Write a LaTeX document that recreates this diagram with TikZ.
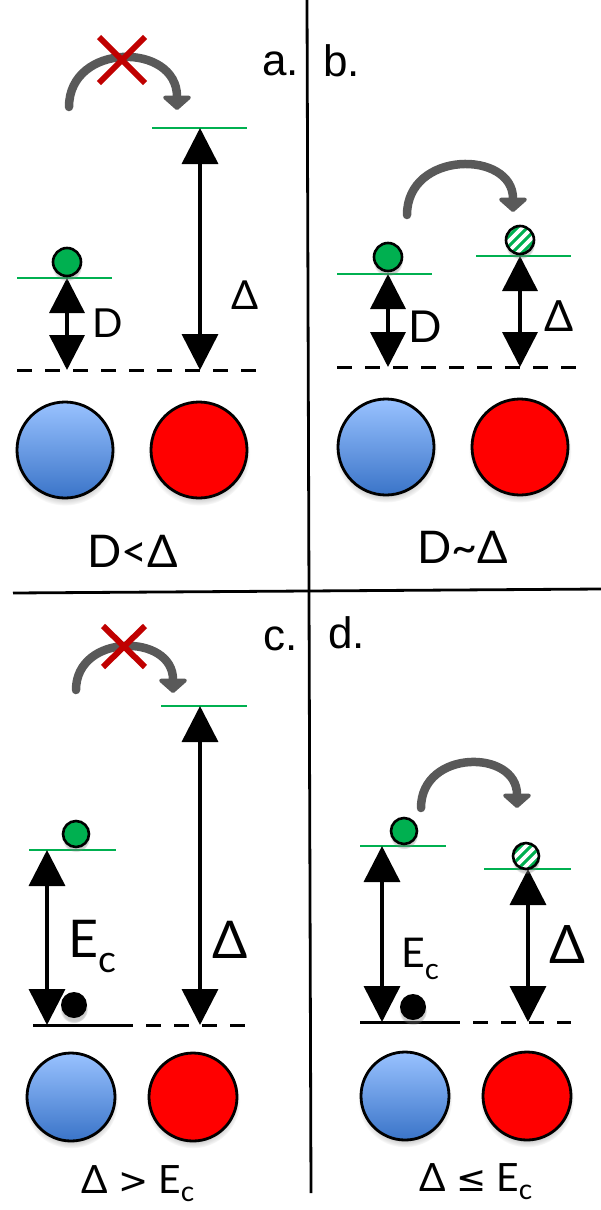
\documentclass[tikz,border=0pt]{standalone}
\usepackage{fontspec}
\setmainfont{Lato}
\newfontfamily\helv{Liberation Sans}
\newfontfamily\dejav{DejaVu Sans}
\usetikzlibrary{arrows.meta,shadows,fadings}
\definecolor{lvlgreen}{RGB}{0,176,80}
\definecolor{hopgray}{RGB}{89,89,89}
\definecolor{xred}{RGB}{192,0,0}
\definecolor{bluetop}{RGB}{153,194,255}
\definecolor{bluebot}{RGB}{58,116,200}
\newcommand\fsz[1]{\fontsize{#1}{#1}\selectfont}
\newcommand\Ecsub{E\raisebox{-0.3em}{\scalebox{0.72}{c}}}
\newcommand\Ecsubc{E\raisebox{-0.22em}{\scalebox{0.72}{c}}}
\begin{document}
\begin{tikzpicture}[x=1pt,y=-1pt,
  lvl/.style={draw=lvlgreen, line width=2.2pt},
  gaparr/.style={line width=3.6pt, {Triangle[width=36pt,length=36pt]}-{Triangle[width=36pt,length=36pt]}},
  gapsm/.style={line width=3.6pt, {Triangle[width=35pt,length=35pt]}-{Triangle[width=35pt,length=35pt]}},
  vacline/.style={draw, line width=3pt, dash pattern=on 15pt off 13pt},
  solidline/.style={draw, line width=3pt},
  hoparr/.style={draw=hopgray, line width=8.5pt, line cap=round, -{Triangle[width=33pt,length=15pt,round]}},
  nohop/.style={draw=xred, line width=6pt},
  shad/.style={circular drop shadow={shadow xshift=0pt, shadow yshift=-4pt, opacity=0.4, shadow scale=1.07}},
  eball/.style={circle, draw=black, line width=2.6pt, inner sep=0pt, minimum size=28pt, fill=lvlgreen, shad},
  hball/.style={eball, path picture={
      \foreach \d in {-30,-20,...,30}{
        \draw[white, line width=3.8pt] ([shift={(\d-20,20)}]path picture bounding box.center) -- ++(40,-40);}}},
  bdot/.style={circle, fill=black, inner sep=0pt, minimum size=26pt, shad},
  bigblue/.style={circle, draw=black, line width=2.8pt, inner sep=0pt, top color=bluetop, bottom color=bluebot, shad},
  bigred/.style={circle, draw=black, line width=2.8pt, inner sep=0pt, fill=red, shad},
  plab/.style={font=\helv\fsz{44}, inner sep=0pt},
  txt/.style={inner sep=0pt}
]
\useasboundingbox (0,0) rectangle (601,1210);
\fill[white] (0,0) rectangle (601,1210);

% dividers
\coordinate (vt) at (307,0); \coordinate (vb) at (311,1193);
\coordinate (hl) at (13,593); \coordinate (hr) at (601,589);
\draw[line width=2.8pt] (vt) -- (vb);
\draw[line width=2.8pt] (hl) -- (hr);

% ================= panel a =================
\node[plab, anchor=base west] (la) at (262,75) {a.};
\draw[vacline] (17,370) -- (260,370);
\draw[lvl] (17,278) -- (112,278);
\draw[lvl] (152,128) -- (247,128);
\coordinate (aD1) at (67,278); \coordinate (aD2) at (67,370);
\coordinate (aG1) at (200,128); \coordinate (aG2) at (200,370);
\draw[gapsm] (aD1) -- (aD2);
\draw[gaparr] (aG1) -- (aG2);
\node[eball] (aE) at (67,262) {};
\coordinate (aH1) at (69,107); \coordinate (aH2) at (177,110);
\draw[hoparr] (aH1) .. controls (69,42) and (177,42) .. (aH2);
\draw[nohop] (99,37) -- (145,83);
\draw[nohop] (145,37) -- (99,83);
\node[txt, anchor=base, font=\fsz{40}] (aDl) at (108,337) {D};
\node[txt, anchor=base, font=\fsz{40}] (aGl) at (245,309) {Δ};
\node[bigblue, minimum size=96pt] (aB) at (65,450) {};
\node[bigred, minimum size=96pt] (aR) at (199,450) {};
\node[txt, anchor=base, font=\fsz{45}] (aC) at (133,567) {D<Δ};

% ================= panel b =================
\node[plab, anchor=base west] (lb) at (323,76) {b.};
\draw[vacline] (337,367) -- (579,367);
\draw[lvl] (337,274) -- (432,274);
\draw[lvl] (476,256) -- (571,256);
\coordinate (bD1) at (388,274); \coordinate (bD2) at (388,367);
\coordinate (bG1) at (520,256); \coordinate (bG2) at (520,367);
\draw[gapsm] (bD1) -- (bD2);
\draw[gapsm] (bG1) -- (bG2);
\node[eball] (bE) at (388,257) {};
\node[hball] (bH) at (520,240) {};
\coordinate (bH1) at (407,215); \coordinate (bH2) at (513,212);
\draw[hoparr] (bH1) .. controls (407,150) and (513,150) .. (bH2);
\node[txt, anchor=base, font=\fsz{44}] (bDl) at (425,342) {D};
\node[txt, anchor=base, font=\fsz{43}] (bGl) at (559,331) {Δ};
\node[bigblue, minimum size=96pt] (bB) at (386,447) {};
\node[bigred, minimum size=96pt] (bR) at (520,447) {};
\node[txt, anchor=base, font=\fsz{45}] (bC) at (463,563) {D\textasciitilde Δ};

% ================= panel c =================
\node[plab, anchor=base west] (lc) at (263,650) {c.};
\draw[vacline] (118,1025) -- (245,1025);
\draw[solidline] (33,1025) -- (118,1025);
\draw[lvl] (29,850) -- (116,850);
\draw[lvl] (161,706) -- (247,706);
\coordinate (cE1) at (47,850); \coordinate (cE2) at (47,1025);
\coordinate (cG1) at (200,706); \coordinate (cG2) at (200,1025);
\draw[gaparr] (cE1) -- (cE2);
\draw[gaparr] (cG1) -- (cG2);
\node[eball, minimum size=26pt] (cE) at (76,834) {};
\node[bdot] (cK) at (74,1005) {};
\coordinate (cH1) at (76,690); \coordinate (cH2) at (173,693);
\draw[hoparr] (cH1) .. controls (76,633) and (173,633) .. (cH2);
\draw[nohop] (103,626) -- (145,667);
\draw[nohop] (145,626) -- (103,667);
\node[txt, anchor=base west, font=\fsz{52}] (cEl) at (68,957) {\Ecsub};
\node[txt, anchor=base, font=\fsz{52}] (cGl) at (230,958) {Δ};
\node[bigblue, minimum size=88pt] (cB) at (71,1097) {};
\node[bigred, minimum size=88pt] (cR) at (193,1097) {};
\node[txt, anchor=base, font=\fsz{39}] (cC) at (138,1193) {Δ {\dejav\fsz{36}>} \Ecsubc};

% ================= panel d =================
\node[plab, anchor=base west] (ld) at (328,648) {d.};
\draw[vacline] (445,1022) -- (571,1022);
\draw[solidline] (360,1022) -- (445,1022);
\draw[lvl] (360,846) -- (446,846);
\draw[lvl] (484,869) -- (571,869);
\coordinate (dE1) at (382,846); \coordinate (dE2) at (382,1022);
\coordinate (dG1) at (528,869); \coordinate (dG2) at (528,1022);
\draw[gaparr] (dE1) -- (dE2);
\draw[gaparr] (dG1) -- (dG2);
\node[eball, minimum size=26pt] (dE) at (404,831) {};
\node[hball, minimum size=26pt] (dH) at (526,856) {};
\node[bdot] (dK) at (413,1007) {};
\coordinate (dH1) at (421,808); \coordinate (dH2) at (517,808);
\draw[hoparr] (dH1) .. controls (421,749) and (517,749) .. (dH2);
\node[txt, anchor=base west, font=\fsz{41}] (dEl) at (401,967) {\Ecsub};
\node[txt, anchor=base, font=\fsz{53}] (dGl) at (567,963) {Δ};
\node[bigblue, minimum size=88pt] (dB) at (405,1096) {};
\node[bigred, minimum size=88pt] (dR) at (527,1096) {};
\node[txt, anchor=base, font=\fsz{39}] (dC) at (476,1191) {Δ {\dejav\fsz{36}≤} \Ecsubc};
\end{tikzpicture}
\end{document}
